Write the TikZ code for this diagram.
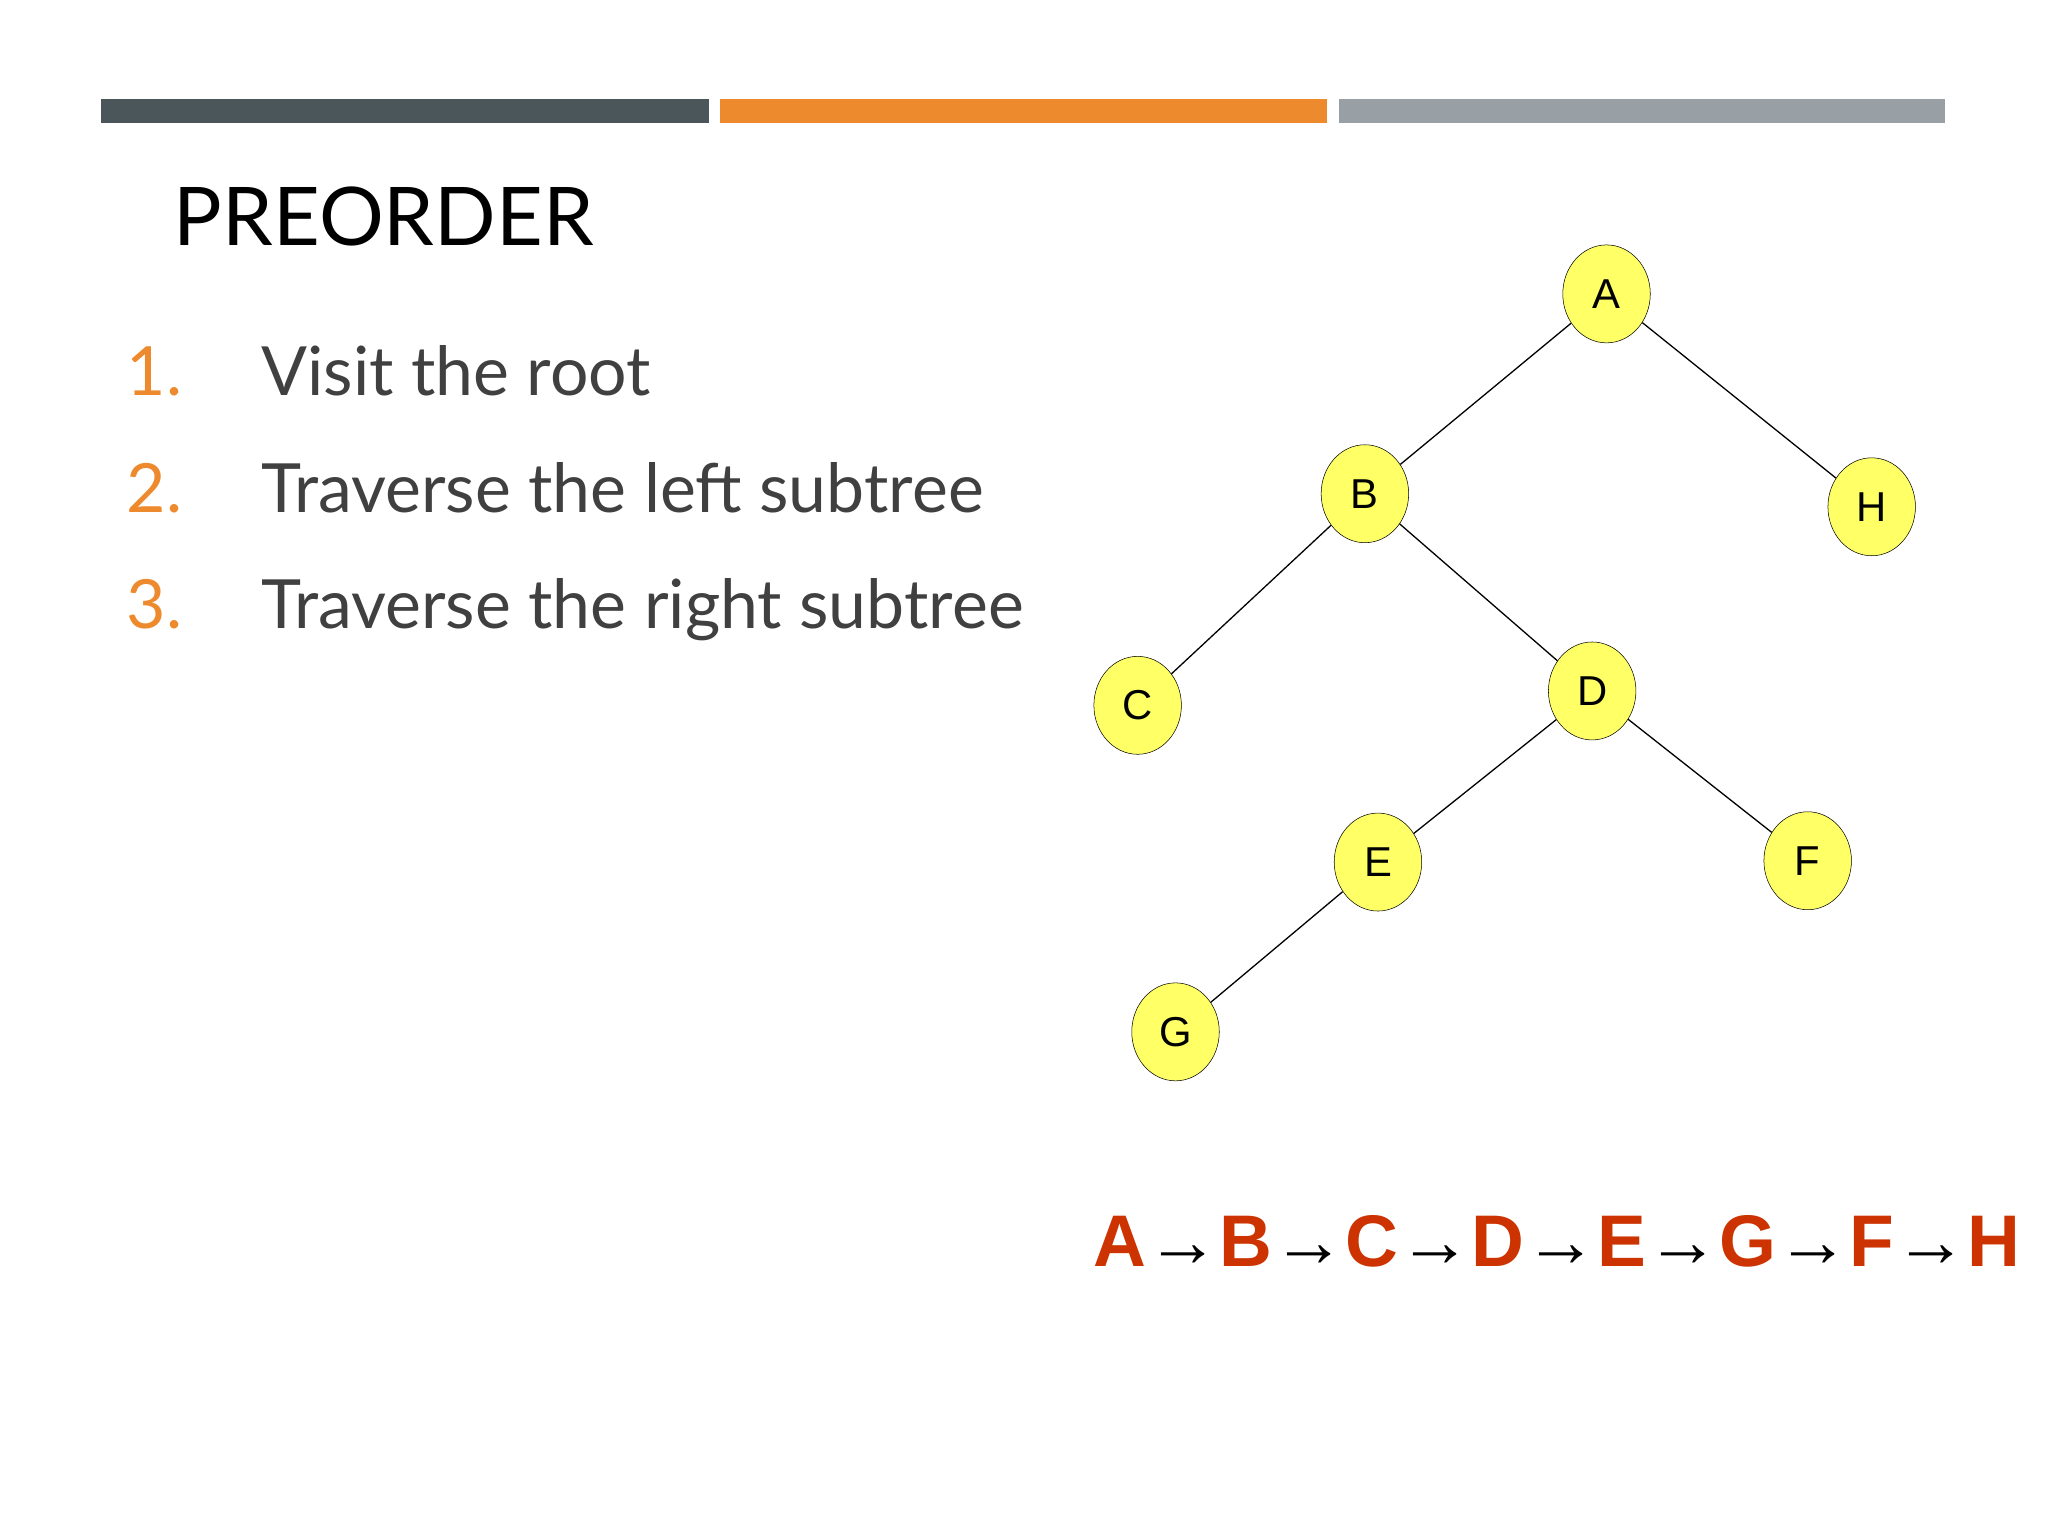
\documentclass[tikz,border=0pt]{standalone}
\usepackage{fontspec}
\setmainfont{Lato}
\newfontfamily\arial{Liberation Sans}
\usetikzlibrary{shapes.geometric}
\definecolor{bardark}{HTML}{4A5659}
\definecolor{barorange}{HTML}{EE8A2E}
\definecolor{bargray}{HTML}{98A0A6}
\definecolor{txtgray}{HTML}{404040}
\definecolor{seqred}{HTML}{CC3300}
\definecolor{nodey}{HTML}{FFFF66}
\tikzset{
  tnode/.style={ellipse,draw=black,fill=nodey,minimum width=67pt,minimum height=75pt,inner sep=0pt,font=\arial\fontsize{32}{32}\selectfont},
  edge/.style={draw=black,line width=1pt},
  num/.style={anchor=base west,text=barorange,font=\fontsize{52}{52}\selectfont},
  item/.style={anchor=base west,text=txtgray,font=\fontsize{52}{52}\selectfont}
}
\begin{document}
\begin{tikzpicture}[x=1pt,y=-1pt]
\useasboundingbox (0,0) rectangle (1568,1176);
\fill[bardark] (77,76) rectangle (543,94);
\fill[barorange] (551,76) rectangle (1016,94);
\fill[bargray] (1025,76) rectangle (1489,94);
\node[anchor=base west,inner sep=0pt,font=\fontsize{62}{62}\selectfont] (title) at (133,188) {PREORDER};
\node[num,inner sep=0pt] (n1) at (97,303) {1.};
\node[item,inner sep=0pt] (t1) at (200,303) {Visit the root};
\node[num,inner sep=0pt] (n2) at (97,392) {2.};
\node[item,inner sep=0pt] (t2) at (200,392) {Traverse the left subtree};
\node[num,inner sep=0pt] (n3) at (97,481) {3.};
\node[item,inner sep=0pt] (t3) at (200,481) {Traverse the right subtree};
\node[tnode] (A) at (1230,225) {A};
\node[tnode] (B) at (1045,378) {B};
\node[tnode] (H) at (1433,388) {H};
\node[tnode] (C) at (871,540) {C};
\node[tnode] (D) at (1219,529) {D};
\node[tnode] (E) at (1055,660) {E};
\node[tnode] (F) at (1384,659) {F};
\node[tnode] (G) at (900,790) {G};
\draw[edge] (A)--(B); \draw[edge] (A)--(H);
\draw[edge] (B)--(C); \draw[edge] (B)--(D);
\draw[edge] (D)--(E); \draw[edge] (D)--(F);
\draw[edge] (E)--(G);
\node[inner sep=0pt,anchor=base,text=seqred,font=\arial\bfseries\fontsize{56}{56}\selectfont] (seq) at (1192,970)
 {A{\mdseries\color{black}→}B{\mdseries\color{black}→}C{\mdseries\color{black}→}D{\mdseries\color{black}→}E{\mdseries\color{black}→}G{\mdseries\color{black}→}F{\mdseries\color{black}→}H};
\end{tikzpicture}
\end{document}
